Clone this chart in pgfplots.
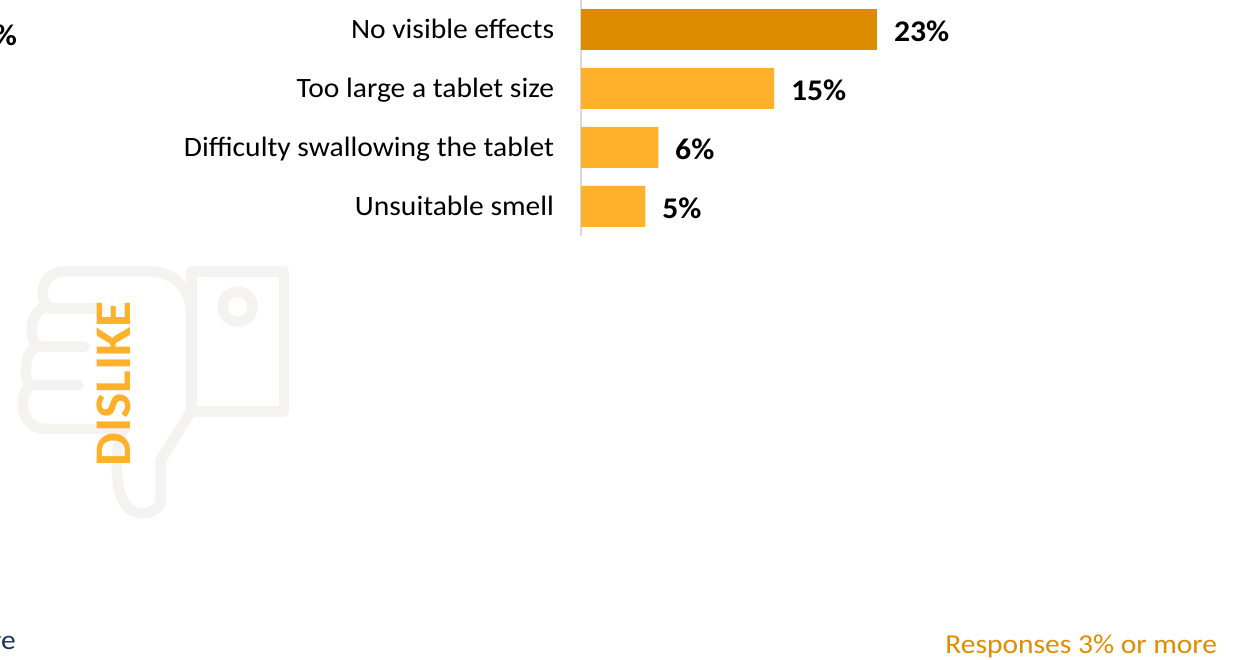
\documentclass[border=0pt]{standalone}
\usepackage{pgfplots}
\pgfplotsset{compat=1.18}
\usepackage{fontspec}
\setmainfont{Carlito}
\newfontfamily\labelfont[FakeStretch=1.055]{Carlito}
\newfontfamily\notefont[FakeStretch=1.08]{Carlito}
\newfontfamily\titlefont[FakeStretch=1.04]{Carlito}
\definecolor{barlight}{HTML}{FFB12B}
\definecolor{bardark}{HTML}{DD8C00}
\definecolor{axisgrey}{HTML}{D9D9D9}
\definecolor{iconbeige}{HTML}{F4F3EF}
\definecolor{noteorange}{HTML}{E08E00}
\definecolor{notenavy}{HTML}{17375E}
\pgfplotstableread{
pos value
0 23
}\topreason
\pgfplotstableread{
pos value
1 15
2 6
3 5
}\otherreasons
\begin{document}
\begin{tikzpicture}
\useasboundingbox (0,0) rectangle (932.25pt,495pt);
\clip (0,0) rectangle (932.25pt,495pt);
\fill[white] (0,0) rectangle (932.25pt,495pt);

% thumbs-down pictogram behind the section title
\begin{scope}[x=.25pt,y=-.25pt,shift={(0,307.5pt)},draw=iconbeige,line width=7.8pt,line cap=round,line join=round]
  \draw (574,64) rectangle (852,484);
  \draw (713,170) circle[radius=45];
  \draw (573,484) -- (573,195) .. controls (573,115) and (520,64) .. (450,64)
        -- (195,64) .. controls (150,64) and (128,95) .. (128,130)
        .. controls (128,150) and (135,165) .. (150,175) -- (300,175);
  \draw (125,175) .. controls (90,195) and (85,265) .. (112,290) -- (253,290);
  \draw (110,290) .. controls (70,310) and (70,385) .. (92,405) -- (235,405);
  \draw (92,405) .. controls (55,430) and (55,537) .. (140,537) -- (372,537)
        .. controls (358,560) and (350,590) .. (350,640)
        .. controls (350,740) and (375,790) .. (430,790)
        .. controls (450,790) and (470,778) .. (482,762)
        -- (482,630) -- (573,485);
\end{scope}

\node[rotate=90,text=barlight,font=\titlefont\bfseries\fontsize{38.5pt}{38.5pt}\selectfont,inner sep=0pt]
  at (85.3pt,207.3pt) {DISLIKE};

\begin{axis}[
  at={(435.75pt,318pt)}, anchor=south west,
  scale only axis, width=309.1pt, height=177pt,
  xmin=0, xmax=32, ymin=-0.5, ymax=3.5,
  y dir=reverse,
  axis x line=none,
  axis y line=left,
  axis line style={-,color=axisgrey,line width=1.5pt},
  ytick={0,1,2,3},
  yticklabels={No visible effects,Too large a tablet size,Difficulty swallowing the tablet,Unsuitable smell},
  major tick length=0pt,
  yticklabel style={font=\labelfont\fontsize{21pt}{21pt}\selectfont,text=black,inner sep=0pt,text height=14pt,text depth=4.5pt},
  y tick label style={xshift=-20pt,yshift=-2.2pt},
  xbar, bar shift=0pt, bar width=30.75pt,
  point meta=x,
  nodes near coords={\pgfmathprintnumber[assume math mode=true]{\pgfplotspointmeta}\%},
  nodes near coords align={horizontal},
  every node near coord/.style={font=\labelfont\bfseries\fontsize{22.5pt}{22.5pt}\selectfont,text=black,anchor=west,inner sep=0pt,xshift=12.5pt,yshift=-1.8pt,text height=14pt,text depth=0pt},
  clip=false,
]
\addplot[fill=bardark,draw=none] table[x=value,y=pos] {\topreason};
\addplot[fill=barlight,draw=none] table[x=value,y=pos] {\otherreasons};
\end{axis}

% labels cut by the edge of the slide
\node[anchor=base east,font=\labelfont\bfseries\fontsize{22.5pt}{22.5pt}\selectfont,text=black,inner sep=0pt] at (13pt,461pt) {\%};
\node[anchor=base east,font=\notefont\fontsize{20.5pt}{20.5pt}\selectfont,text=notenavy,inner sep=0pt] at (12pt,8pt) {more};
\node[anchor=base east,font=\notefont\fontsize{20.5pt}{20.5pt}\selectfont,text=noteorange,inner sep=0pt] at (913pt,4.5pt) {Responses 3\% or more};
\end{tikzpicture}
\end{document}
